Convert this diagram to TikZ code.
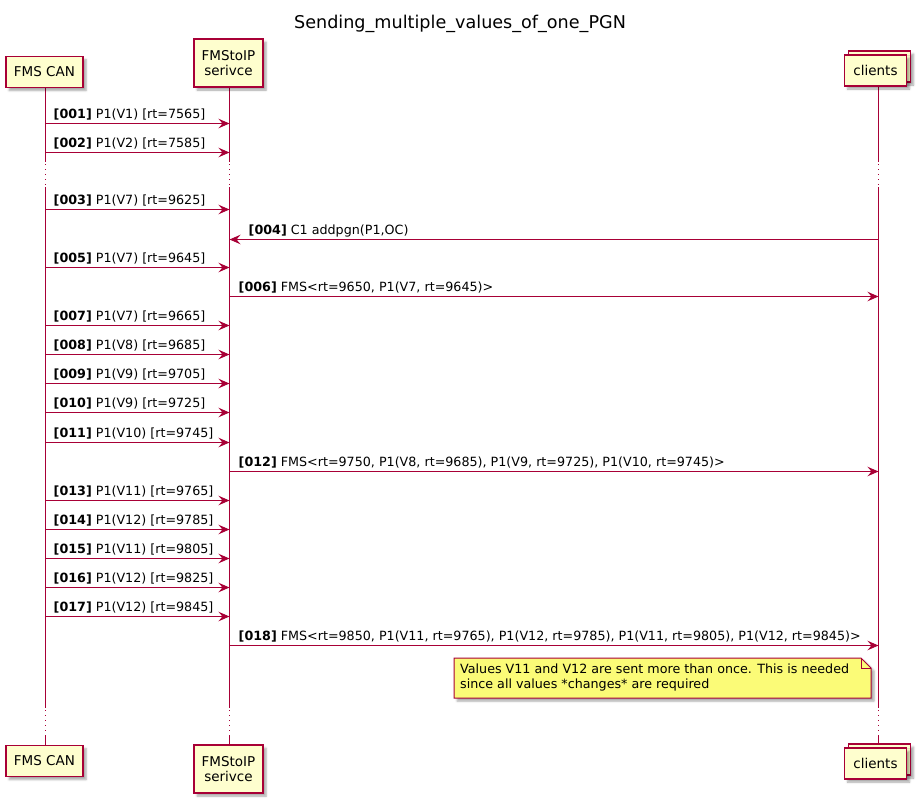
\documentclass[tikz,border=0pt]{standalone}
\usepackage{fontspec}
\setmainfont{DejaVu Sans}
\usetikzlibrary{arrows.meta,shadows.blur,calc}
\definecolor{umlred}{HTML}{A80036}
\definecolor{partfill}{HTML}{FEFECE}
\definecolor{notefill}{HTML}{FBFB77}

\tikzset{
  softshadow/.style={blur shadow={shadow xshift=3pt, shadow yshift=-3pt, shadow blur steps=5, shadow opacity=35}},
  part/.style={draw=umlred, line width=1.1pt, fill=partfill, inner sep=0pt, align=center,
    font=\fontsize{13.5}{16}\selectfont, softshadow},
  life/.style={draw=umlred, line width=1pt},
  lifedots/.style={draw=umlred, line width=1pt, dash pattern=on 1pt off 4pt},
  tipR/.style={-{Stealth[length=11pt,width=9.5pt,inset=4pt]}},
  tipL/.style={{Stealth[length=11pt,width=9.5pt,inset=4pt]}-},
  msg/.style={draw=umlred, line width=1pt},
  lbl/.style={anchor=base west, inner sep=0pt, font=\fontsize{12.7}{15}\selectfont},
  notetext/.style={anchor=north west, inner sep=0pt, align=left, font=\fontsize{12.7}{14.5}\selectfont},
}

% one message: y, left lifeline, right lifeline, label offset, number, text, tip style
\newcommand{\umlmsg}[7]{%
  \draw[msg,#7] ($(#2)+(0,#1+0.5)$) -- ($(#3)+(0,#1+0.5)$);
  \node[lbl] (m#5) at ($(#2)+(#4,#1-4.5)$) {\textbf{[#5]} #6};
}

\begin{document}
\begin{tikzpicture}[x=1pt,y=-1pt]
\useasboundingbox (0,0) rectangle (921,804);

% title
\node[anchor=base, inner sep=0pt, font=\fontsize{17.6}{20}\selectfont] (title) at (460,28) {Sending\_multiple\_values\_of\_one\_PGN};

% lifeline positions
\coordinate (can) at (45.5,0);
\coordinate (svc) at (229.5,0);
\coordinate (cli) at (878.5,0);

% lifelines: solid, skipped part, solid, skipped part, solid
\foreach \c in {can,svc,cli}{
  \draw[life] ($(\c)+(0,87)$) -- ($(\c)+(0,162)$);
  \draw[lifedots] ($(\c)+(0,164)$) -- ($(\c)+(0,186)$);
  \draw[life] ($(\c)+(0,187)$) -- ($(\c)+(0,708)$);
  \draw[lifedots] ($(\c)+(0,710)$) -- ($(\c)+(0,734)$);
  \draw[life] ($(\c)+(0,735)$) -- ($(\c)+(0,745)$);
}

% participants, top
\node[part, minimum width=77pt, minimum height=31pt] (canTop) at (44.5,72) {FMS CAN};
\node[part, minimum width=69pt, minimum height=48pt] (svcTop) at (228.5,63) {FMStoIP\\[-1pt]serivce};
\node[part, minimum width=62pt, minimum height=31pt] (cliTopBack) at (879.5,66.5) {};
\node[part, minimum width=62pt, minimum height=31pt] (cliTop) at (875.5,70.5) {clients};

% participants, bottom
\node[part, minimum width=77pt, minimum height=31pt] (canBot) at (44.5,761) {FMS CAN};
\node[part, minimum width=69pt, minimum height=48pt] (svcBot) at (228.5,769) {FMStoIP\\[-1pt]serivce};
\node[part, minimum width=62pt, minimum height=31pt] (cliBotBack) at (879.5,759.5) {};
\node[part, minimum width=62pt, minimum height=31pt] (cliBot) at (875.5,763.5) {clients};

% messages
\umlmsg{123}{can}{svc}{8}{001}{P1(V1) [rt=7565]}{tipR}
\umlmsg{152}{can}{svc}{8}{002}{P1(V2) [rt=7585]}{tipR}
\umlmsg{209}{can}{svc}{8}{003}{P1(V7) [rt=9625]}{tipR}
\umlmsg{239}{svc}{cli}{19}{004}{C1 addpgn(P1,OC)}{tipL}
\umlmsg{267}{can}{svc}{8}{005}{P1(V7) [rt=9645]}{tipR}
\umlmsg{296}{svc}{cli}{9}{006}{FMS<rt=9650, P1(V7, rt=9645)>}{tipR}
\umlmsg{325}{can}{svc}{8}{007}{P1(V7) [rt=9665]}{tipR}
\umlmsg{354}{can}{svc}{8}{008}{P1(V8) [rt=9685]}{tipR}
\umlmsg{383}{can}{svc}{8}{009}{P1(V9) [rt=9705]}{tipR}
\umlmsg{412}{can}{svc}{8}{010}{P1(V9) [rt=9725]}{tipR}
\umlmsg{442}{can}{svc}{8}{011}{P1(V10) [rt=9745]}{tipR}
\umlmsg{471}{svc}{cli}{9}{012}{FMS<rt=9750, P1(V8, rt=9685), P1(V9, rt=9725), P1(V10, rt=9745)>}{tipR}
\umlmsg{500}{can}{svc}{8}{013}{P1(V11) [rt=9765]}{tipR}
\umlmsg{529}{can}{svc}{8}{014}{P1(V12) [rt=9785]}{tipR}
\umlmsg{558}{can}{svc}{8}{015}{P1(V11) [rt=9805]}{tipR}
\umlmsg{587}{can}{svc}{8}{016}{P1(V12) [rt=9825]}{tipR}
\umlmsg{616}{can}{svc}{8}{017}{P1(V12) [rt=9845]}{tipR}
\umlmsg{645}{svc}{cli}{9}{018}{FMS<rt=9850, P1(V11, rt=9765), P1(V12, rt=9785), P1(V11, rt=9805), P1(V12, rt=9845)>}{tipR}

% note with folded corner
\draw[draw=umlred, line width=1pt, fill=notefill, softshadow]
  (454,658) -- (861,658) -- (871,668) -- (871,698) -- (454,698) -- cycle;
\draw[draw=umlred, line width=1pt] (861,658) -- (861,668) -- (871,668);
\node[notetext] (note) at (460,664) {Values V11 and V12 are sent more than once. This is needed\\since all values *changes* are required};
\end{tikzpicture}
\end{document}
